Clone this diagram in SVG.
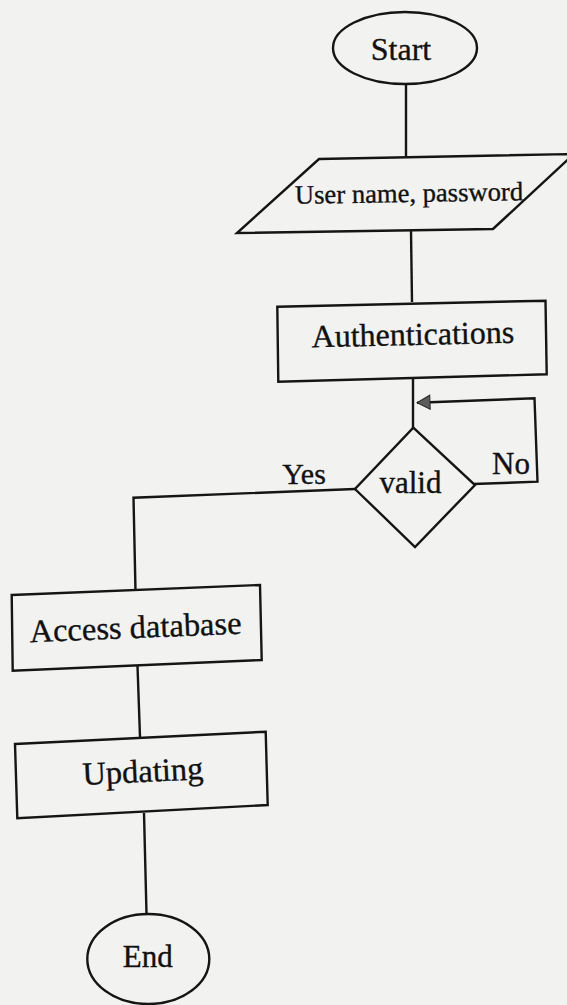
<svg xmlns="http://www.w3.org/2000/svg" width="567" height="1005" viewBox="0 0 567 1005">
  <style>
    .shape { fill: none; stroke: #151515; stroke-width: 2.4; stroke-linejoin: miter; }
    .edge { fill: none; stroke: #151515; stroke-width: 2.4; }
    .label { font-family: "Liberation Serif", "Times New Roman", serif; fill: #111111; stroke: #111111; stroke-width: 0.35; text-anchor: middle; }
  </style>
  <defs>
    <marker id="arrow" markerUnits="userSpaceOnUse" viewBox="0 0 15 16" refX="14" refY="8" markerWidth="15" markerHeight="16" orient="auto">
      <path d="M1,1 L14,8 L1,15 Z" fill="#5c5c5c" stroke="#2a2a2a" stroke-width="1"/>
    </marker>
  </defs>

  <!-- paper -->
  <rect x="0" y="0" width="567" height="1005" fill="#f2f2f0"/>

  <!-- connectors -->
  <g id="connectors">
    <path class="edge" d="M406,84 L406,157"/>
    <path class="edge" d="M411,231 L412,302"/>
    <path class="edge" d="M413,378 L413,428"/>
    <path class="edge" d="M473,484 L537.5,481.7 L534.5,398.3 L417,402.7" marker-end="url(#arrow)"/>
    <path class="edge" d="M355,489 L133.5,497.7 L135.5,591"/>
    <path class="edge" d="M137.5,666 L140,737"/>
    <path class="edge" d="M144,813 L146.5,914"/>
  </g>

  <!-- nodes -->
  <g id="start">
    <ellipse class="shape" cx="405" cy="48" rx="72" ry="36"/>
    <text class="label" x="401" y="60" font-size="32">Start</text>
  </g>

  <g id="input">
    <polygon class="shape" points="319,159 574,154 493,229 237,233"/>
    <text class="label" x="409" y="202" font-size="26.6" transform="rotate(-0.9 409 194)">User name, password</text>
  </g>

  <g id="authentications">
    <polygon class="shape" points="277.3,306.7 545.5,300.7 546.7,374.3 278.3,381.7"/>
    <text class="label" x="413" y="345" font-size="32" transform="rotate(-1.3 413 340)">Authentications</text>
  </g>

  <g id="valid">
    <polygon class="shape" points="413.3,427.7 475,485 415,547 355,489"/>
    <text class="label" x="410.5" y="493" font-size="31">valid</text>
  </g>

  <g id="edge-labels">
    <text class="label" x="511" y="474" font-size="31">No</text>
    <text class="label" x="304" y="484" font-size="30">Yes</text>
  </g>

  <g id="access-database">
    <polygon class="shape" points="11.7,595 260,585 261.7,660 12.7,670.7"/>
    <text class="label" x="135.5" y="638" font-size="32.5" transform="rotate(-2.3 135.5 628)">Access database</text>
  </g>

  <g id="updating">
    <polygon class="shape" points="15,744 265.7,731.7 267.7,805 17.3,818.3"/>
    <text class="label" x="143" y="782" font-size="32.5" transform="rotate(-2.8 143 775)">Updating</text>
  </g>

  <g id="end">
    <ellipse class="shape" cx="148.3" cy="959" rx="61" ry="45"/>
    <text class="label" x="147.7" y="967" font-size="31">End</text>
  </g>
</svg>
